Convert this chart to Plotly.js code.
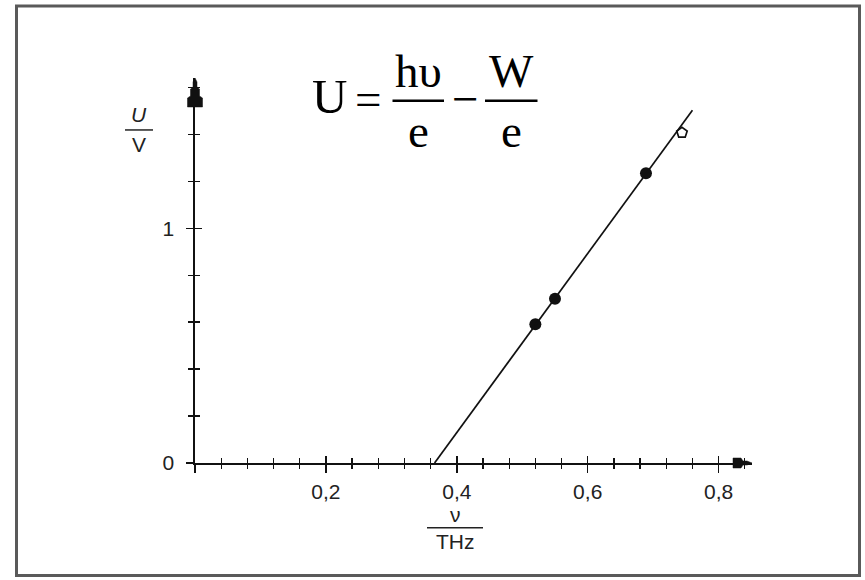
<!DOCTYPE html>
<html>
<head>
<meta charset="utf-8">
<script src="https://cdn.plot.ly/plotly-3.0.1.min.js"></script>
<style>html,body{margin:0;padding:0;background:#fff;}#chart{width:865px;height:580px;}</style>
</head>
<body>
<div id="chart"></div>
<script>
// ---- data ----
const nuMeasured = [0.520, 0.550, 0.689];
const uMeasured = [0.591, 0.700, 1.234];
const nuExtra = [0.744];
const uExtra = [1.407];
const fitNu = [0.366, 0.760];
const fitU = [0, 1.503];
const xTickVals = [0, 0.2, 0.4, 0.6, 0.8];
const xTickText = ["", "0,2", "0,4", "0,6", "0,8"];
const yTickVals = [0, 1];
const yTickText = ["0", "1"];

// ---- layout geometry ----
const W = 865, H = 580;
const mL = 195, mR = 113, mT = 78, mB = 116.7;
const pw = W - mL - mR, ph = H - mT - mB;
const xRange = [0, 0.851];
const yRange = [0, 1.64];
const px = v => (v - mL) / pw;          // pixel x -> paper
const py = v => (H - mB - v) / ph;      // pixel y -> paper

const sans = 'Liberation Sans, Arial, sans-serif';
const tickFont = {family: sans, size: 21, color: '#222'};
const serif = 'Liberation Serif, Times New Roman, serif';
const fSize = 47;

const traces = [
  {x: fitNu, y: fitU, xaxis: 'x2', yaxis: 'y2', mode: 'lines',
   line: {color: '#111', width: 1.7}, hoverinfo: 'skip', showlegend: false},
  {x: nuMeasured, y: uMeasured, mode: 'markers', cliponaxis: false,
   marker: {symbol: 'circle', size: 12, color: '#111'}, showlegend: false},
  {x: nuExtra, y: uExtra, mode: 'markers', cliponaxis: false,
   marker: {symbol: 'pentagon-open', size: 11, color: '#111', line: {width: 1.7, color: '#111'}}, showlegend: false}
];

const axBase = {
  showgrid: false, zeroline: false, fixedrange: true,
  tickcolor: '#111', tickwidth: 1.4
};

const layout = {
  width: W, height: H,
  margin: {l: mL, r: mR, t: mT, b: mB},
  paper_bgcolor: '#fff', plot_bgcolor: 'rgba(0,0,0,0)',
  showlegend: false,
  xaxis: Object.assign({}, axBase, {
    range: xRange, tickmode: 'array', tickvals: xTickVals, ticktext: xTickText,
    showline: true, linecolor: '#111', linewidth: 1.6,
    ticks: 'outside', ticklen: 8, tickfont: tickFont, ticklabelstandoff: 1,
    minor: {dtick: 0.04, tick0: 0, ticks: 'outside', ticklen: 4, tickwidth: 1.3, tickcolor: '#111', showgrid: false}
  }),
  yaxis: Object.assign({}, axBase, {
    range: yRange, tickmode: 'array', tickvals: yTickVals, ticktext: yTickText,
    showline: true, linecolor: '#111', linewidth: 1.6,
    ticks: 'outside', ticklen: 7, tickfont: tickFont, ticklabelstandoff: 8,
    minor: {dtick: 0.2, tick0: 0, ticks: 'outside', ticklen: 5, tickwidth: 1.3, tickcolor: '#111', showgrid: false}
  }),
  xaxis2: Object.assign({}, axBase, {
    range: xRange, overlaying: 'x', anchor: 'y2', side: 'bottom',
    tickmode: 'array', tickvals: xTickVals, showticklabels: false, showline: false,
    ticks: 'inside', ticklen: 7,
    minor: {dtick: 0.04, tick0: 0, ticks: 'inside', ticklen: 5, tickwidth: 1.3, tickcolor: '#111', showgrid: false}
  }),
  yaxis2: Object.assign({}, axBase, {
    range: yRange, overlaying: 'y', anchor: 'x2', side: 'left',
    tickmode: 'array', tickvals: yTickVals, showticklabels: false, showline: false,
    ticks: 'inside', ticklen: 7,
    minor: {dtick: 0.2, tick0: 0, ticks: 'inside', ticklen: 5, tickwidth: 1.3, tickcolor: '#111', showgrid: false}
  }),
  shapes: [
    // outer frame
    {type: 'rect', xref: 'paper', yref: 'paper', x0: px(16.5), x1: px(859.5), y0: py(6), y1: py(576),
     line: {color: '#5a5a5a', width: 3}, fillcolor: 'rgba(0,0,0,0)', layer: 'below'},
    // y axis arrowhead (stepped), anchored at top of the y axis
    {type: 'path', xref: 'paper', yref: 'paper', xsizemode: 'pixel', ysizemode: 'pixel', xanchor: 0, yanchor: 1,
     path: 'M0,0 L2,-4 L2,-9 L4.5,-11 L4.5,-18 L7.5,-20 L7.5,-29 L-7.5,-29 L-7.5,-20 L-4.5,-18 L-4.5,-11 L-2,-9 L-2,-4 Z',
     fillcolor: '#111', line: {color: '#111', width: 0.5}},
    // x axis arrowhead (stepped), anchored at right end of the x axis
    {type: 'path', xref: 'paper', yref: 'paper', xsizemode: 'pixel', ysizemode: 'pixel', xanchor: 1, yanchor: 0,
     path: 'M0,0 L-5,2 L-9,2 L-11,5 L-19,5 L-19,-5 L-11,-5 L-9,-2 L-5,-2 Z',
     fillcolor: '#111', line: {color: '#111', width: 0.5}},
    // formula fraction bars
    {type: 'line', xref: 'paper', yref: 'paper', x0: px(392.5), x1: px(444), y0: py(100.7), y1: py(100.7),
     line: {color: '#000', width: 2.5}},
    {type: 'line', xref: 'paper', yref: 'paper', x0: px(485), x1: px(537.5), y0: py(100.7), y1: py(100.7),
     line: {color: '#000', width: 2.5}},
    // axis label fraction bars
    {type: 'line', xref: 'paper', yref: 'paper', x0: px(125), x1: px(153), y0: py(130), y1: py(130),
     line: {color: '#222', width: 1.5}},
    {type: 'line', xref: 'paper', yref: 'paper', x0: px(427), x1: px(483), y0: py(528), y1: py(528),
     line: {color: '#222', width: 1.5}}
  ],
  annotations: [
    // formula
    {xref: 'paper', yref: 'paper', x: px(329), y: py(97), text: 'U', showarrow: false,
     xanchor: 'center', yanchor: 'middle', font: {family: serif, size: 49, color: '#000'}},
    {xref: 'paper', yref: 'paper', x: px(368), y: py(99), text: '=', showarrow: false,
     xanchor: 'center', yanchor: 'middle', font: {family: serif, size: fSize, color: '#000'}},
    {xref: 'paper', yref: 'paper', x: px(418), y: py(71), text: 'hυ', showarrow: false,
     xanchor: 'center', yanchor: 'middle', font: {family: serif, size: fSize, color: '#000'}},
    {xref: 'paper', yref: 'paper', x: px(418), y: py(131), text: 'e', showarrow: false,
     xanchor: 'center', yanchor: 'middle', font: {family: serif, size: fSize, color: '#000'}},
    {xref: 'paper', yref: 'paper', x: px(465), y: py(99), text: '−', showarrow: false,
     xanchor: 'center', yanchor: 'middle', font: {family: serif, size: fSize, color: '#000'}},
    {xref: 'paper', yref: 'paper', x: px(511), y: py(71), text: 'W', showarrow: false,
     xanchor: 'center', yanchor: 'middle', font: {family: serif, size: fSize, color: '#000'}},
    {xref: 'paper', yref: 'paper', x: px(511), y: py(131), text: 'e', showarrow: false,
     xanchor: 'center', yanchor: 'middle', font: {family: serif, size: fSize, color: '#000'}},
    // y axis label U / V
    {xref: 'paper', yref: 'paper', x: px(139), y: py(115), text: '<i>U</i>', showarrow: false,
     xanchor: 'center', yanchor: 'middle', font: {family: sans, size: 21, color: '#222'}},
    {xref: 'paper', yref: 'paper', x: px(139), y: py(145), text: 'V', showarrow: false,
     xanchor: 'center', yanchor: 'middle', font: {family: sans, size: 21, color: '#222'}},
    // x axis label nu / THz
    {xref: 'paper', yref: 'paper', x: px(455), y: py(515), text: 'ν', showarrow: false,
     xanchor: 'center', yanchor: 'middle', font: {family: sans, size: 21, color: '#222'}},
    {xref: 'paper', yref: 'paper', x: px(455), y: py(542), text: 'THz', showarrow: false,
     xanchor: 'center', yanchor: 'middle', font: {family: sans, size: 21, color: '#222'}}
  ]
};

Plotly.newPlot('chart', traces, layout, {staticPlot: true, displayModeBar: false});
</script>
</body>
</html>
